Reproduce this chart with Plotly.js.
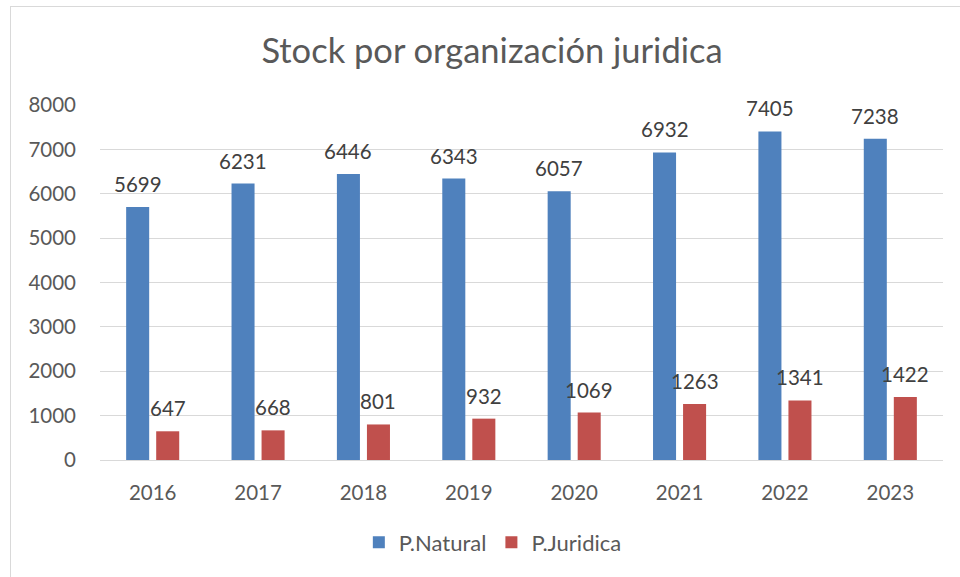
<!DOCTYPE html>
<html><head><meta charset="utf-8">
<script src="https://cdn.plot.ly/plotly-3.0.1.min.js"></script>
<style>
html,body{margin:0;padding:0;overflow:hidden;background:#fff;}
#chart{position:absolute;left:0;top:0;width:960px;height:577px;}
#frame{position:absolute;left:10px;top:6px;width:1200px;height:1200px;border:1px solid #d9d9d9;pointer-events:none;}
</style></head>
<body>
<div id="chart"></div>
<div id="frame"></div>
<script>
const years = ['2016','2017','2018','2019','2020','2021','2022','2023'];
const natural = [5699, 6231, 6446, 6343, 6057, 6932, 7405, 7238];
const juridica = [647, 668, 801, 932, 1069, 1263, 1341, 1422];
const yTicks = [0,1000,2000,3000,4000,5000,6000,7000,8000];

const FONT = 'Lato, "Open Sans", sans-serif';
const LABEL_FONT = {family:FONT, size:20.5, color:'#404040'};

const traces = [
  {type:'bar', name:'P.Natural', x:years, y:natural,
   marker:{color:'#4f81bd'}, hoverinfo:'skip'},
  {type:'bar', name:'P.Juridica', x:years, y:juridica,
   marker:{color:'#c0504d'}, hoverinfo:'skip'}
];

// category axis: annotation x is the category index
function labels(vals, shift) {
  return years.map((yr, i) => ({
    x: i, y: vals[i], xref:'x', yref:'y', text: String(vals[i]),
    showarrow:false, xanchor:'center', yanchor:'bottom',
    xshift: shift, yshift: 9, font: LABEL_FONT
  }));
}

const layout = {
  width:960, height:577,
  margin:{l:100, r:17, t:105, b:117},
  paper_bgcolor:'#fff', plot_bgcolor:'#fff',
  font:{family:FONT, color:'#595959', size:20.5},
  title:{text:'Stock por organización juridica', x:0.5125, xref:'container', xanchor:'center',
         y:0.912, yref:'container', yanchor:'middle',
         font:{family:FONT, size:34.5, color:'#595959'}},
  barmode:'group', bargap:0.43, bargroupgap:0.233,
  xaxis:{type:'category', categoryarray:years, range:[-0.5, years.length-0.5], autorange:false,
         showgrid:false, showline:true, linecolor:'#d9d9d9', linewidth:1,
         ticks:'', tickfont:{size:20.5, color:'#595959'}, ticklabelstandoff:14},
  yaxis:{range:[0,8000], autorange:false, tickvals:yTicks, ticktext:yTicks.map(String), showgrid:true,
         gridcolor:'#d9d9d9', gridwidth:1, zeroline:false, showline:false, ticks:'',
         tickfont:{size:20.5, color:'#595959'}, ticklabelstandoff:23},
  annotations: labels(natural, -15).concat(labels(juridica, 15)),
  showlegend:true,
  legend:{orientation:'h', x:0.466, xanchor:'center', y:-0.232, yanchor:'middle',
          font:{size:22, color:'#595959'}, itemwidth:30, traceorder:'normal'}
};

Plotly.newPlot('chart', traces, layout, {displayModeBar:false, staticPlot:true});
</script>
</body></html>
